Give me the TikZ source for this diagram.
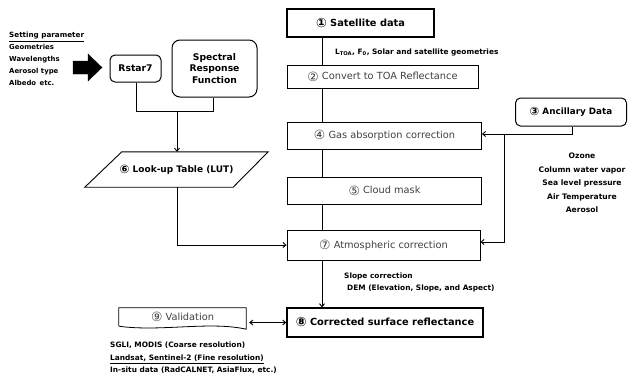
\documentclass[tikz,border=0pt]{standalone}
\usepackage{fontspec}
\setmainfont{DejaVu Sans}
\newfontfamily\lightf{DejaVu Sans}
\newfontfamily\circf{DejaVu Sans}
\usetikzlibrary{arrows.meta}
\newcommand{\cn}[1]{\raisebox{-0.12em}{\scalebox{1.3}{\circf #1}}}
\begin{document}
\begin{tikzpicture}[x=1pt,y=-1pt,
  lightbox/.style={draw,line width=0.8pt,minimum height=27pt,minimum width=194pt,font=\lightf\fontsize{9.8}{11}\selectfont,text=black!75},
  boldbox/.style={draw,line width=1.3pt,font=\bfseries\fontsize{9.8}{12}\selectfont},
  rbox/.style={draw,line width=1pt,rounded corners=5pt,font=\bfseries\fontsize{8.8}{11}\selectfont,align=center},
  note/.style={font=\bfseries\fontsize{7.4}{13.5}\selectfont,inner sep=0pt},
  conn/.style={line width=0.9pt},
  arr/.style={conn,-{Straight Barb[length=3pt,width=5pt]}}
]
\useasboundingbox (0,0) rectangle (632,383);
% main chain
\node[boldbox,minimum height=28pt,minimum width=147pt] (sat) at (360.5,23) {\cn{①} Satellite data};
\node[lightbox,minimum height=23pt,minimum width=191pt] (conv) at (382.5,76.5) {\cn{②} Convert to TOA Reflectance};
\node[lightbox] (gas) at (384.5,135.5) {\cn{④} Gas absorption correction};
\node[lightbox] (cloud) at (384.5,190.5) {\cn{⑤} Cloud mask};
\node[lightbox,minimum height=30pt,minimum width=193pt] (atm) at (383.5,245) {\cn{⑦} Atmospheric correction};
\node[boldbox,minimum height=29pt,minimum width=196pt] (cor) at (385,322.5) {\cn{⑧} Corrected surface reflectance};

\coordinate (mtop) at (322,37);
\draw[conn] (sat.south -| mtop) -- (conv.north -| mtop);
\draw[conn] (conv.south -| mtop) -- (gas.north -| mtop);
\draw[conn] (gas.south -| mtop) -- (cloud.north -| mtop);
\draw[conn] (cloud.south -| mtop) -- (atm.north -| mtop);
\draw[arr] (atm.south -| mtop) -- (cor.north -| mtop);

\node[note,anchor=west] (lbl) at (335,52) {L\textsubscript{TOA}, F\textsubscript{0}, Solar and satellite geometries};
\node[note,anchor=north west,align=left] (slope) at (344,273) {Slope correction\\[-1.5pt]\hspace*{3pt}DEM (Elevation, Slope, and Aspect)};

% ancillary
\node[rbox,minimum width=111pt,minimum height=28pt] (anc) at (571,112) {\cn{③} Ancillary Data};
\node[note,align=center,anchor=north,font=\bfseries\fontsize{7.6}{13.5}\selectfont] (anclist) at (582,153) {Ozone\\Column water vapor\\Sea level pressure\\Air Temperature\\Aerosol};
\coordinate (ak) at (572,134);
\coordinate (av) at (504,134);
\draw[conn] (anc.south -| ak) -- (ak) -- (av);
\draw[arr] (av) -- (gas.east |- av);
\draw[arr] (av) -- (504,242) -- (atm.east |- 0,242);

% left part
\node[note,anchor=west,font=\bfseries\fontsize{7.2}{10}\selectfont] (setp) at (9,37) {\underline{Setting parameter}};
\node[note,anchor=north west,align=left,font=\bfseries\fontsize{6.9}{12}\selectfont] (setlist) at (9,44) {Geometries\\Wavelengths\\Aerosol type\\Albedo\enspace etc.};
\node[rbox,minimum width=51pt,minimum height=27pt,font=\bfseries\fontsize{9.2}{11}\selectfont] (rstar) at (135.5,68.5) {Rstar7};
\node[rbox,minimum width=85pt,minimum height=57pt,rounded corners=8pt,font=\bfseries\fontsize{9.2}{11.5}\selectfont] (srf) at (214.5,68.5) {Spectral\\Response\\Function};
\draw[fill=black] (73,61) -- (88,61) -- (88,54) -- (102,67.5) -- (88,81) -- (88,74) -- (73,74) -- cycle;

\node[minimum width=183pt,minimum height=35pt,inner sep=0pt,font=\bfseries\fontsize{9}{11}\selectfont] (lut) at (176.5,169.5) {\cn{⑥} Look-up Table (LUT)};
\draw[line width=0.9pt] ([xshift=37pt]lut.north west) -- (lut.north east) -- ([xshift=-35pt]lut.south east) -- (lut.south west) -- cycle;

\coordinate (j) at (177,111);
\draw[conn] (rstar.south -| 136,0) -- (136,111) -- (213,111) -- (srf.south -| 213,0);
\draw[arr] (j) -- (lut.north -| j);
\draw[arr] (lut.south -| j) -- (177,245) -- (atm.west |- 0,245);

% validation
\node[minimum width=127pt,minimum height=18pt,inner sep=0pt,font=\lightf\fontsize{9.8}{11}\selectfont,text=black!75] (val) at (182.5,317) {\cn{⑨} Validation};
\draw[line width=0.8pt] (val.south west) -- (val.north west) -- (val.north east) -- ([yshift=-3pt]val.south east) .. controls (210,321) and (160,332) .. (val.south west);
\draw[conn,{Straight Barb[length=3pt,width=5pt]}-{Straight Barb[length=3pt,width=5pt]}] ([xshift=3pt]val.east |- cor.west) -- (cor.west);
\node[note,anchor=north west,align=left,font=\bfseries\fontsize{7.4}{12.5}\selectfont] (vallist) at (110,342) {SGLI, MODIS (Coarse resolution)\\\underline{Landsat, Sentinel-2 (Fine resolution)}\\In-situ data (RadCALNET, AsiaFlux, etc.)};
\end{tikzpicture}
\end{document}
